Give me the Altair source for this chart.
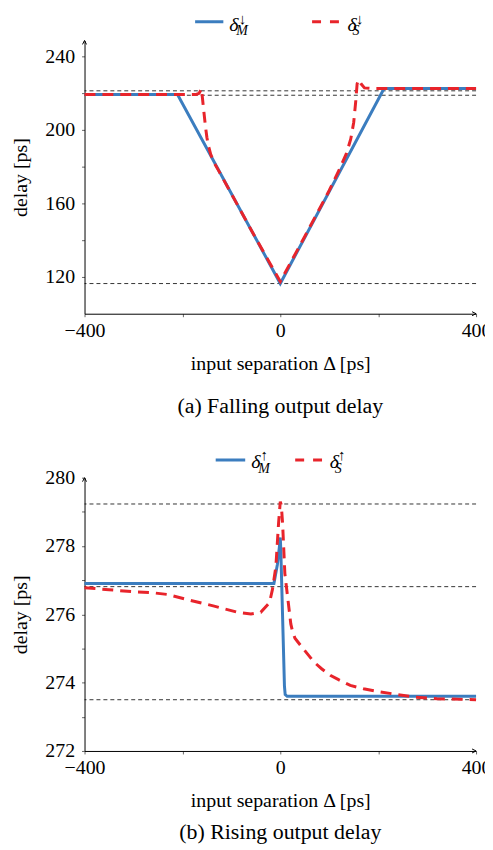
import json
import altair as alt
import pandas as pd

FONT = "Liberation Serif"
BLUE = "#3b7dbf"
RED = "#e8242b"

# ---------------- (a) Falling output delay ----------------
fall_m_x = [-400, -210, 0, 212, 400]
fall_m_y = [219.2, 219.2, 116.4, 222.5, 222.5]
fall_s_x = [-400, -172, -166, -161, -157, -153, -150, -147, -142, -135, -126, -100, -50, 0,
            50, 100, 120, 135, 144, 150, 154, 157, 160, 165, 172, 185, 400]
fall_s_y = [219.2, 219.2, 219.8, 222.3, 212, 202, 196, 191.5, 186.5, 182, 177.8, 165.2, 141, 117.5,
            142, 167, 178, 187, 195, 204, 215, 225, 227.2, 225, 222.8, 222.5, 222.5]
fall_refs = [221.2, 218.8, 116.4]
fall_ydomain = [100, 248.6]
fall_yticks = [120, 140, 160, 180, 200, 220, 240]
fall_ylabels = [120, 160, 200, 240]

# ---------------- (b) Rising output delay ----------------
rise_m_x = [-400, -13, -6, -2, 0, 1, 4, 7, 8.5, 10, 14, 400]
rise_m_y = [276.9, 276.9, 277.45, 277.95, 278.25, 277.9, 276.3, 274.7, 273.9, 273.65, 273.6, 273.6]
rise_s_x = [-400, -350, -300, -260, -230, -190, -135, -87, -60, -40, -22, -16, -9, -3.5, 0,
            2, 4.7, 9.3, 14.8, 21.5, 25, 30, 42, 55, 69, 85, 103, 120, 143, 170, 204, 240, 272, 320, 400]
rise_s_y = [276.78, 276.72, 276.66, 276.63, 276.58, 276.43, 276.24, 276.06, 276.01, 276.06, 276.34,
            276.73, 277.4, 278.67, 279.3, 279.2, 278.67, 277.2, 276.53, 275.72, 275.5, 275.3, 275.08,
            274.85, 274.6, 274.4, 274.21, 274.08, 273.92, 273.82, 273.73, 273.65, 273.58, 273.53, 273.5]
rise_refs = [279.23, 276.81, 273.5]
rise_ydomain = [272, 280]
rise_yticks = [272, 273, 274, 275, 276, 277, 278, 279, 280]
rise_ylabels = [272, 274, 276, 278, 280]

x_domain = [-400, 400]
x_ticks = [-400, -200, 0, 200, 400]
x_labels = [-400, 0, 400]

x_title = "input separation Δ [ps]"
y_title = "delay [ps]"


def label_expr(labels):
    return f"indexof({json.dumps(labels)}, datum.value) >= 0 ? datum.label : ''"


def panel(mx, my, sx, sy, refs, ydom, yticks, ylabels, arrow, caption, leg, cap_offset, top_room):
    xs = alt.Scale(domain=x_domain, nice=False, zero=False)
    ys = alt.Scale(domain=ydom, nice=False, zero=False)
    common = dict(labelFont=FONT, labelFontSize=20, titleFont=FONT, titleFontSize=20,
                  titleFontWeight="normal", labelColor="black", titleColor="black",
                  domainColor="black", domainWidth=1, tickColor="#666", tickWidth=1,
                  tickSize=3, grid=False, labelOverlap=False, labelFlush=False, labelBound=False)
    xaxis = alt.Axis(values=x_ticks, labelExpr=label_expr(x_labels), title=x_title,
                     labelPadding=4, titlePadding=13, **common)
    yaxis = alt.Axis(values=yticks, labelExpr=label_expr(ylabels), title=y_title,
                     labelPadding=7, titlePadding=14, **common)

    m_df = pd.DataFrame({"x": mx, "y": my})
    s_df = pd.DataFrame({"x": sx, "y": sy})
    r_df = pd.DataFrame({"y": refs})

    X = alt.X("x:Q", scale=xs, axis=xaxis)
    Y = alt.Y("y:Q", scale=ys, axis=yaxis)

    ref_layer = alt.Chart(r_df).mark_rule(color="black", strokeWidth=0.8,
                                          strokeDash=[4, 3]).encode(y=Y)
    m_layer = alt.Chart(m_df).mark_line(color=BLUE, strokeWidth=3).encode(x=X, y=Y, order="x:Q")
    s_layer = alt.Chart(s_df).mark_line(color=RED, strokeWidth=3,
                                        strokeDash=[11, 7]).encode(x=X, y=Y, order="x:Q")

    ya = pd.DataFrame({"x": [x_domain[0]], "y": [ydom[1]]})
    xa = pd.DataFrame({"x": [x_domain[1]], "y": [ydom[0]]})
    y_arrow = alt.Chart(ya).mark_point(shape="M-1,2L0,0L1,2", size=16, color="black",
                                       strokeWidth=1, filled=False, opacity=1).encode(x=X, y=Y)
    x_arrow = alt.Chart(xa).mark_point(shape="M-2,-1L0,0L-2,1", size=16, color="black",
                                       strokeWidth=1, filled=False, opacity=1).encode(x=X, y=Y)

    one = alt.Data(values=[{"k": 0}])
    layers = [ref_layer, m_layer, s_layer, y_arrow, x_arrow]
    # invisible spacer keeping a small margin left of the y-axis title
    layers.append(alt.Chart(one).mark_rule(opacity=0, strokeWidth=1).encode(
        x=alt.value(-77), x2=alt.value(-76), y=alt.value(100)))
    if top_room:
        # invisible spacer reserving room above the legend
        layers.append(alt.Chart(one).mark_rule(opacity=0, strokeWidth=1).encode(
            x=alt.value(0), x2=alt.value(1), y=alt.value(-top_room)))
    ly, dy, suby, supy = leg["line_y"], leg["delta_y"], leg["sub_y"], leg["sup_y"]
    for (x1, x2, dx, sub, subdx, supdx, color, dash) in leg["items"]:
        rule = alt.Chart(one).mark_rule(color=color, strokeWidth=3, strokeDash=dash).encode(
            x=alt.value(x1), x2=alt.value(x2), y=alt.value(ly))
        d = alt.Chart(one).mark_text(text="δ", font=FONT, fontSize=20, fontStyle="italic",
                                     align="left", baseline="alphabetic", color="black").encode(
            x=alt.value(dx), y=alt.value(dy))
        s = alt.Chart(one).mark_text(text=sub, font=FONT, fontSize=14, fontStyle="italic",
                                     align="left", baseline="alphabetic", color="black").encode(
            x=alt.value(dx + subdx), y=alt.value(suby))
        a = alt.Chart(one).mark_text(text=arrow, font=FONT, fontSize=15,
                                     align="left", baseline="alphabetic", color="black").encode(
            x=alt.value(dx + supdx), y=alt.value(supy))
        layers += [rule, d, s, a]

    return alt.layer(*layers).properties(
        width=394, height=275,
        title=alt.TitleParams(caption, orient="bottom", font=FONT, fontSize=22,
                              fontWeight="normal", color="black", offset=cap_offset,
                              anchor="middle"),
    )


top_leg = {
    "line_y": -18.7, "delta_y": -9.5, "sub_y": -5.5, "sup_y": -17,
    "items": [
        (111.3, 139.7, 145.7, "M", 7, 9.5, BLUE, [1, 0]),
        (229, 256.3, 264.7, "S", 5, 8.5, RED, [9, 9]),
    ],
}
bot_leg = {
    "line_y": -17.7, "delta_y": -10, "sub_y": -4.8, "sup_y": -17.7,
    "items": [
        (132, 161.7, 167.7, "M", 7, 9.5, BLUE, [1, 0]),
        (212, 241, 246.7, "S", 5, 8.5, RED, [9, 9]),
    ],
}

top = panel(fall_m_x, fall_m_y, fall_s_x, fall_s_y, fall_refs, fall_ydomain, fall_yticks,
            fall_ylabels, "↓", "(a) Falling output delay", top_leg, 23, 29.5)
bottom = panel(rise_m_x, rise_m_y, rise_s_x, rise_s_y, rise_refs, rise_ydomain, rise_yticks,
               rise_ylabels, "↑", "(b) Rising output delay", bot_leg, 12, 0)

chart = alt.vconcat(top, bottom, spacing=31).properties(
    padding={"left": 0, "top": 0, "right": -6, "bottom": 0}
).configure_view(stroke=None)

chart.save("out.html", embed_options={"renderer": "svg", "actions": False})
